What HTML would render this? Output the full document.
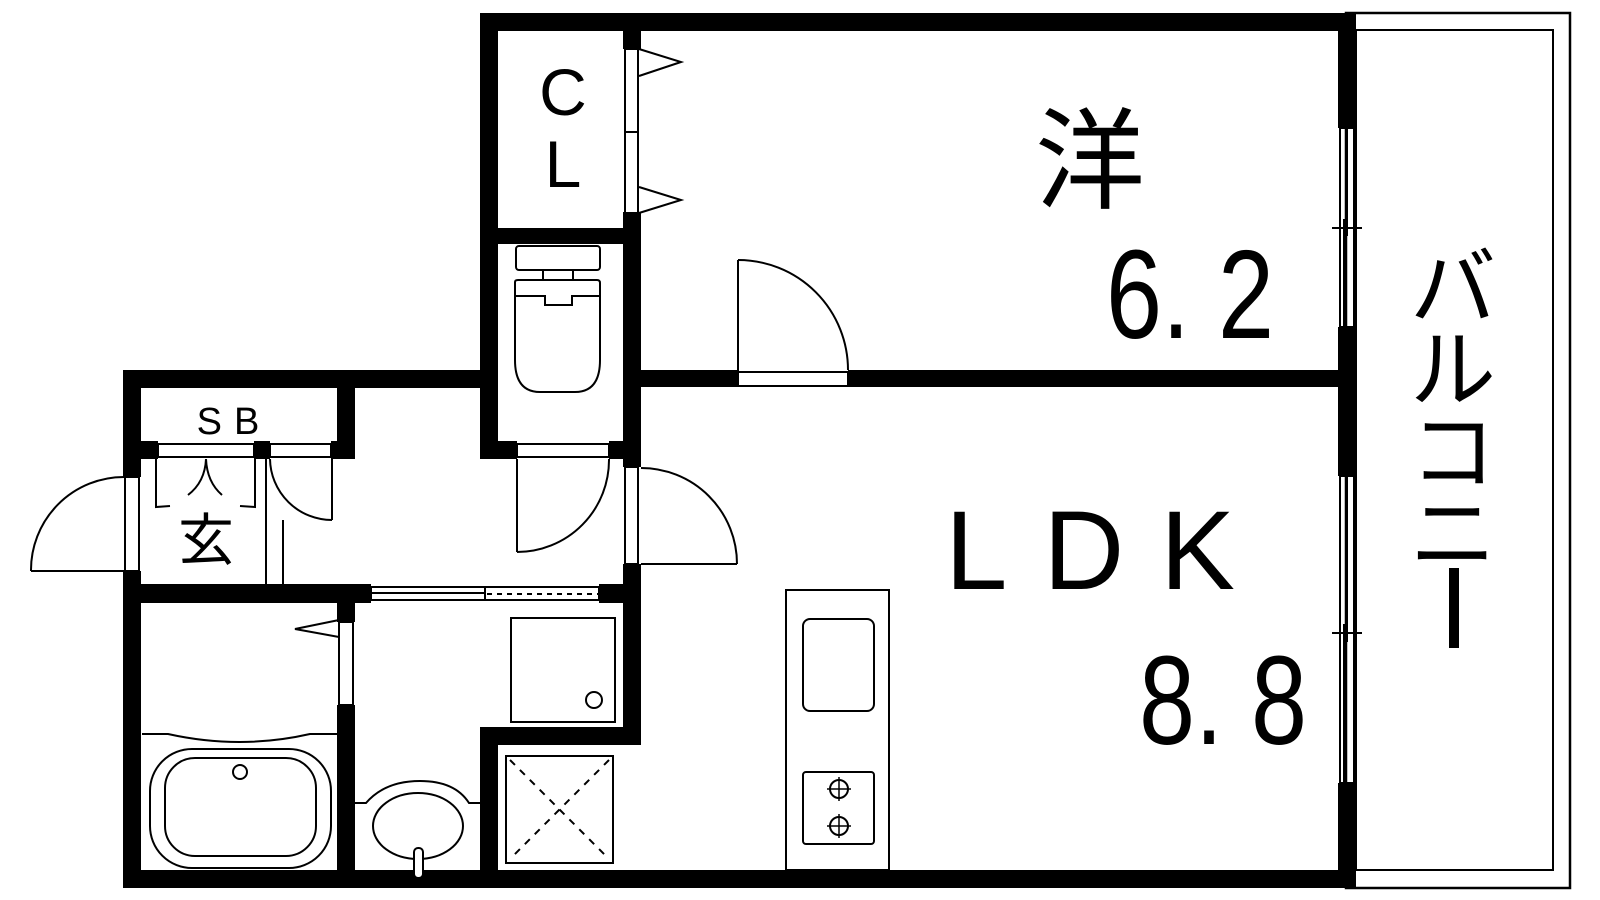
<!DOCTYPE html>
<html><head><meta charset="utf-8"><style>
html,body{margin:0;padding:0;background:#fff;width:1600px;height:900px;overflow:hidden}
svg{display:block}
text{font-family:"Liberation Sans","Noto Sans CJK JP",sans-serif;fill:#000}
.j{font-family:"Noto Sans CJK JP",sans-serif}
</style></head><body>
<svg width="1600" height="900" viewBox="0 0 1600 900" xmlns="http://www.w3.org/2000/svg">
<g fill="none" stroke="#000" stroke-width="2">
<rect x="1346" y="13" width="224" height="875" stroke-width="2.5"/>
<rect x="1356" y="30" width="197" height="840"/>
</g>
<g fill="#000">
<rect x="480" y="13" width="876" height="18"/>
<rect x="1338" y="13" width="18" height="115"/>
<rect x="1338" y="327" width="18" height="149"/>
<rect x="1338" y="783" width="18" height="105"/>
<rect x="123" y="870" width="1233" height="18"/>
<rect x="123" y="370" width="18" height="107"/>
<rect x="123" y="571" width="18" height="317"/>
<rect x="123" y="370" width="375" height="18"/>
<rect x="480" y="13" width="18" height="446"/>
<rect x="623" y="13" width="18" height="36"/>
<rect x="623" y="212" width="18" height="255"/>
<rect x="623" y="564" width="18" height="181"/>
<rect x="480" y="228" width="161" height="16"/>
<rect x="480" y="441" width="37" height="18"/>
<rect x="609" y="441" width="32" height="18"/>
<rect x="641" y="370" width="97" height="17"/>
<rect x="848" y="370" width="490" height="17"/>
<rect x="337" y="370" width="18" height="89"/>
<rect x="123" y="441" width="35" height="18"/>
<rect x="254" y="441" width="16" height="18"/>
<rect x="331" y="441" width="24" height="18"/>
<rect x="123" y="584" width="248" height="19"/>
<rect x="599" y="584" width="42" height="19"/>
<rect x="337" y="603" width="18" height="19"/>
<rect x="337" y="705" width="18" height="183"/>
<rect x="480" y="727" width="161" height="18"/>
<rect x="480" y="727" width="18" height="161"/>
</g>
<g fill="none" stroke="#000" stroke-width="2">
<rect x="1340" y="128" width="14" height="199"/>
<line x1="1347" y1="128" x2="1347" y2="236"/>
<line x1="1344" y1="219" x2="1344" y2="327"/>
<line x1="1332" y1="228" x2="1362" y2="228"/>
<rect x="1340" y="476" width="14" height="307"/>
<line x1="1347" y1="476" x2="1347" y2="642"/>
<line x1="1344" y1="624" x2="1344" y2="783"/>
<line x1="1332" y1="633" x2="1362" y2="633"/>
<rect x="625" y="49" width="13" height="83"/>
<rect x="625" y="132" width="13" height="81"/>
<polyline points="639,49 681,62 639,76"/>
<polyline points="639,187 681,200 639,213"/>
<rect x="516" y="246" width="84" height="24" rx="3"/>
<rect x="543" y="270" width="30" height="10"/>
<path d="M515,282 Q515,280 518,280 L597,280 Q600,280 600,283 L600,360 Q600,392 575,392 L540,392 Q515,392 515,360 Z"/>
<polyline points="515,296 545,296 545,305 572,305 572,296 600,296"/>
<rect x="738" y="372" width="110" height="14"/>
<line x1="738" y1="372" x2="738" y2="260"/>
<path d="M738,260 A110,110 0 0 1 848,370"/>
<rect x="625" y="467" width="13" height="97"/>
<line x1="641" y1="564" x2="737" y2="564"/>
<path d="M641,468 A96,96 0 0 1 737,564"/>
<rect x="517" y="444" width="92" height="13"/>
<line x1="517" y1="459" x2="517" y2="552"/>
<path d="M517,552 A92,92 0 0 0 609,459"/>
<rect x="125" y="477" width="14" height="94"/>
<line x1="31" y1="571" x2="124" y2="571"/>
<path d="M31,571 A93,93 0 0 1 124,477"/>
<rect x="158" y="444" width="96" height="13"/>
<rect x="270" y="444" width="61" height="13"/>
<line x1="332" y1="459" x2="332" y2="520"/>
<path d="M270,459 A62,62 0 0 0 332,520"/>
<line x1="266" y1="459" x2="266" y2="584"/>
<line x1="283" y1="520" x2="283" y2="584"/>
<polyline points="156,459 156,507 170,506"/>
<polyline points="255,459 255,507 240,506"/>
<path d="M206,459 Q205,482 188,495 M206,459 Q207,482 222,495"/>
<rect x="371" y="587" width="114" height="13"/>
<line x1="371" y1="593" x2="485" y2="593"/>
<rect x="485" y="587" width="114" height="13"/>
<line x1="487" y1="594" x2="599" y2="594" stroke-dasharray="5,5"/>
<rect x="339" y="622" width="14" height="83"/>
<polyline points="339,620 295,629 339,637"/>
<path d="M142,734 L168,734 Q240,750 310,734 L337,734"/>
<rect x="150" y="749" width="181" height="119" rx="42"/>
<rect x="165" y="758" width="151" height="98" rx="30"/>
<circle cx="240" cy="772" r="7"/>
<path d="M355,803 L366,803 Q385,781 420,781 Q455,781 469,803 L480,803"/>
<ellipse cx="418" cy="826" rx="45" ry="33"/>
<rect x="414" y="848" width="9" height="30" rx="4" fill="#fff"/>
<rect x="511" y="618" width="104" height="104"/>
<circle cx="594" cy="700" r="8"/>
<rect x="506" y="756" width="107" height="107"/>
<path d="M510,760 L609,859 M609,760 L510,859" stroke-dasharray="7,7"/>
<rect x="786" y="590" width="103" height="280"/>
<rect x="803" y="619" width="71" height="92" rx="7"/>
<rect x="803" y="772" width="71" height="72" rx="3"/>
<circle cx="839" cy="789" r="9"/>
<circle cx="839" cy="826" r="9"/>
<path d="M827,789 H851 M839,777 V801 M827,826 H851 M839,814 V838" stroke-width="1.5"/>
</g>
<text x="563" y="115" font-size="66" text-anchor="middle">C</text>
<text x="563" y="187" font-size="66" text-anchor="middle">L</text>
<text x="234" y="434" font-size="38" text-anchor="middle" letter-spacing="12">SB</text>
<text class="j" x="206" y="560" font-size="56" text-anchor="middle">玄</text>
<text class="j" x="1090" y="200" font-size="110" text-anchor="middle">洋</text>
<text transform="translate(1190,338) scale(0.8,1)" font-size="126" text-anchor="middle">6. 2</text>
<text x="1108" y="589" font-size="112" text-anchor="middle" letter-spacing="36">LDK</text>
<text transform="translate(1223,744) scale(0.8,1)" font-size="126" text-anchor="middle">8. 8</text>
<g class="j" font-size="86" text-anchor="middle">
<text class="j" x="1453" y="318">バ</text>
<text class="j" x="1453" y="400">ル</text>
<text class="j" x="1453" y="482">コ</text>
<text class="j" x="1453" y="564">ニ</text>
</g>
<rect x="1449" y="568" width="10" height="80" fill="#000"/>
</svg>
</body></html>
